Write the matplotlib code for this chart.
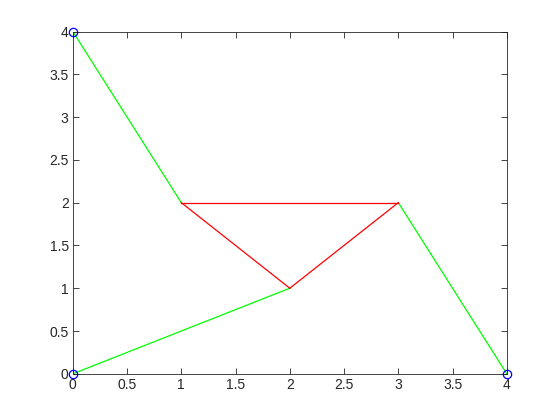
import matplotlib
matplotlib.use("Agg")
import matplotlib.pyplot as plt

# node coordinates
node_x = [0, 0, 1, 2, 3, 4]
node_y = [4, 0, 2, 1, 2, 0]

# green members (node index pairs)
green_edges = [(0, 2), (1, 3), (4, 5)]
# red members
red_edges = [(2, 4), (2, 3), (3, 4)]
# supports
support_nodes = [0, 1, 5]

plt.rcParams['font.family'] = ['Liberation Sans', 'DejaVu Sans']
fig = plt.figure(figsize=(5.6, 4.2), dpi=100)
ax = fig.add_axes([0.13, 0.11, 0.775, 0.815])

for a, b in green_edges:
    ax.plot([node_x[a], node_x[b]], [node_y[a], node_y[b]], color='#00ff00', lw=0.9)
for a, b in red_edges:
    ax.plot([node_x[a], node_x[b]], [node_y[a], node_y[b]], color='#ff0000', lw=0.9)
ax.plot([node_x[i] for i in support_nodes], [node_y[i] for i in support_nodes], 'o',
        mfc='none', mec='#0000ff', ms=6, mew=0.9, clip_on=False, zorder=5)

ax.set_xlim(0, 4)
ax.set_ylim(0, 4)
ticks = [0, 0.5, 1, 1.5, 2, 2.5, 3, 3.5, 4]
ax.set_xticks(ticks)
ax.set_yticks(ticks)
ax.set_xticklabels(['0', '0.5', '1', '1.5', '2', '2.5', '3', '3.5', '4'])
ax.set_yticklabels(['0', '0.5', '1', '1.5', '2', '2.5', '3', '3.5', '4'])
ax.tick_params(direction='in', top=True, right=True, length=4, width=0.6,
               labelsize=10, colors='#262626', pad=3)
for s in ax.spines.values():
    s.set_color('#262626')
    s.set_linewidth(0.6)

fig.savefig('out.png', dpi=100)
